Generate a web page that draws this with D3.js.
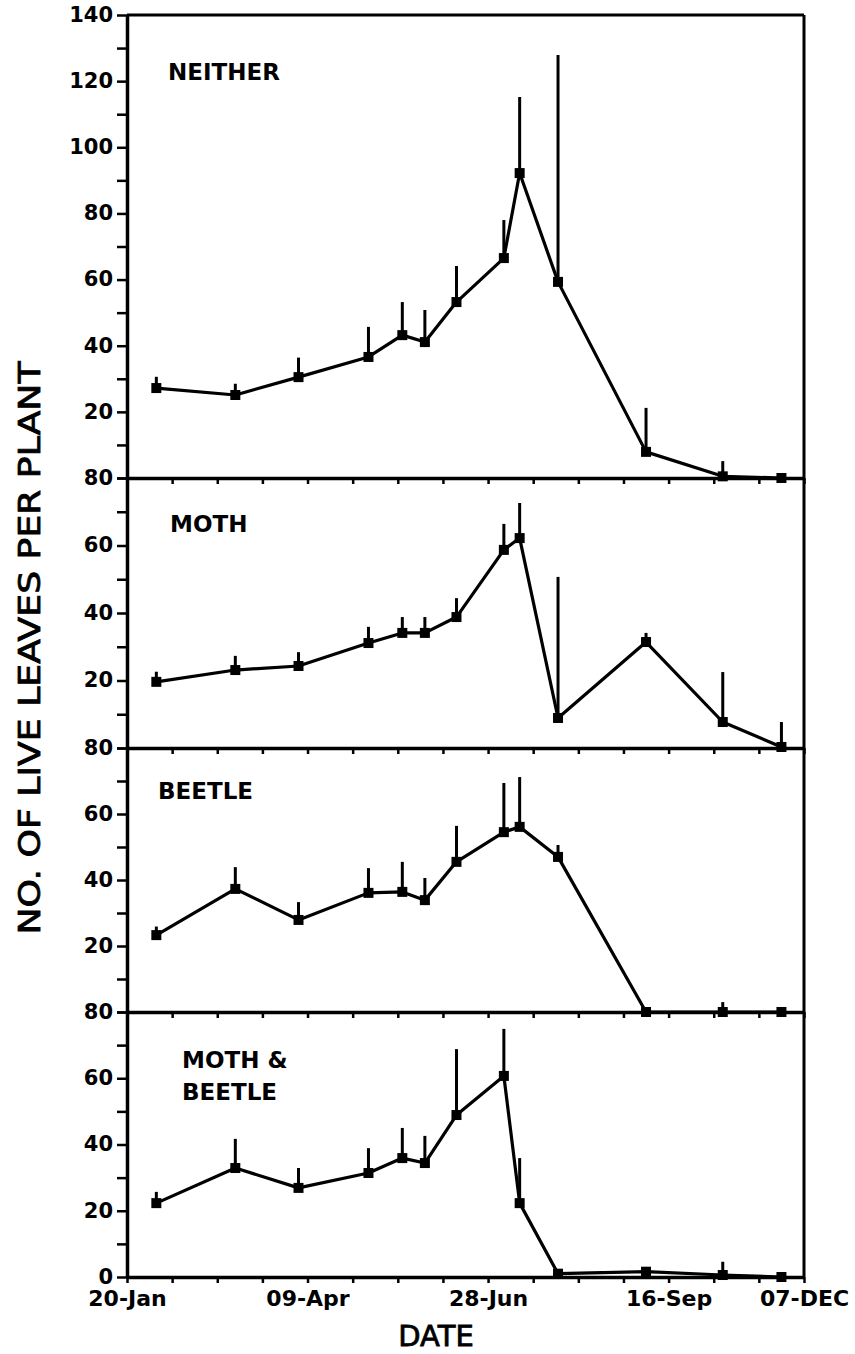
<!DOCTYPE html>
<html>
<head>
<meta charset="utf-8">
<script src="https://cdn.jsdelivr.net/npm/d3@7"></script>
<style>
  body { margin: 0; background: #fff; }
  svg { display: block; }
  .tick text { font-family: "DejaVu Sans", sans-serif; font-weight: bold; fill: #000; }
</style>
</head>
<body>
<div class="js-canvas"></div>
<script>
'use strict';

// sampling dates, as days after 20-Jan
const days = [13, 48, 76, 107, 122, 132, 146, 167, 174, 191, 230, 264, 290];

// mean number of live leaves per plant and the upper error bar length
const neither   = [27.2, 25.1, 30.5, 36.6, 43.2, 41.1, 53.2, 66.5, 92.2, 59.3, 7.9, 0.5, 0];
const neitherSe = [3.4, 3.4, 5.9, 9.1, 10, 9.7, 10.9, 11.5, 23, 68.6, 13.3, 4.6, 0];
const moth      = [19.6, 23.1, 24.3, 31.1, 34.1, 34.1, 38.8, 58.7, 62.2, 8.9, 31.4, 7.7, 0.3];
const mothSe    = [3, 4.2, 4.1, 4.8, 4.7, 4.7, 5.6, 7.7, 10.4, 41.8, 2.7, 14.8, 7.4];
const beetle    = [23.3, 37.3, 27.9, 36.1, 36.4, 33.9, 45.5, 54.5, 56.1, 47, 0, 0, 0];
const beetleSe  = [2.6, 6.6, 5.4, 7.5, 9.1, 6.7, 10.9, 14.9, 15.1, 3.6, 0, 3, 0];
const both      = [22.3, 32.9, 26.9, 31.4, 35.9, 34.4, 48.9, 60.7, 22.3, 1, 1.6, 0.6, 0];
const bothSe    = [3.4, 8.8, 6, 7.5, 9.1, 8.2, 19.9, 14.2, 13.6, 0, 0, 4, 0];

// x axis labels
const tickDays = [0, 80, 160, 240, 300];
const tickLabels = ['20-Jan', '09-Apr', '28-Jun', '16-Sep', '07-DEC'];

const panels = [
    { name: ['NEITHER'], values: neither, se: neitherSe, max: 140 },
    { name: ['MOTH'], values: moth, se: mothSe, max: 80 },
    { name: ['BEETLE'], values: beetle, se: beetleSe, max: 80 },
    { name: ['MOTH &', 'BEETLE'], values: both, se: bothSe, max: 80 }
];

const config = {
    width: 855,
    height: 1354,
    left: 127,
    right: 804,
    // panel edges, top to bottom
    edges: [15, 478, 748, 1012, 1277],
    labelPos: [[168, 80], [170, 532], [158, 799], [182, 1068]]
};

const svg = d3.select('.js-canvas')
    .append('svg')
    .attr('width', config.width)
    .attr('height', config.height);

const x = d3.scaleLinear()
    .domain([0, 300])
    .range([config.left, config.right]);

panels.forEach((p, i) => {
    const top = config.edges[i];
    const bottom = config.edges[i + 1];
    const last = i === panels.length - 1;

    const y = d3.scaleLinear()
        .domain([0, p.max])
        .range([bottom, top]);

    const g = svg.append('g');

    // y axis
    const yAxis = d3.axisLeft(y)
        .tickValues(d3.range(0, p.max + 1, 10))
        .tickSize(10)
        .tickSizeOuter(0)
        .tickPadding(4)
        .tickFormat(d => (d % 20 !== 0 || (d === 0 && !last)) ? '' : d);

    const yg = g.append('g')
        .attr('transform', `translate(${config.left},0)`)
        .call(yAxis);
    yg.selectAll('text').style('font-size', '21px').attr('dy', '0.3em');

    // x axis along the bottom of every panel
    const xAxis = d3.axisBottom(x)
        .tickValues(d3.range(0, 301, 20))
        .tickSize(6)
        .tickSizeOuter(0)
        .tickPadding(7)
        .tickFormat(d => {
            if (!last) return '';
            const k = tickDays.indexOf(d);
            return k >= 0 ? tickLabels[k] : '';
        });

    const xg = g.append('g')
        .attr('transform', `translate(0,${bottom})`)
        .call(xAxis);
    xg.selectAll('text').style('font-size', '22px');

    g.selectAll('.domain').attr('stroke', '#000').attr('stroke-width', 3.5);
    g.selectAll('.tick line').attr('stroke', '#000').attr('stroke-width', 2.5);

    // right edge and top frame
    g.append('line')
        .attr('x1', config.right).attr('x2', config.right)
        .attr('y1', top).attr('y2', bottom)
        .attr('stroke', '#000').attr('stroke-width', 3);
    if (i === 0) {
        g.append('line')
            .attr('x1', config.left).attr('x2', config.right)
            .attr('y1', top).attr('y2', top)
            .attr('stroke', '#000').attr('stroke-width', 3);
    }

    const data = days.map((d, k) => ({ day: d, value: p.values[k], se: p.se[k] }));

    // error bars, upper side only
    g.selectAll('.err')
        .data(data.filter(d => d.se > 0))
        .enter()
        .append('line')
        .attr('class', 'err')
        .attr('x1', d => x(d.day))
        .attr('x2', d => x(d.day))
        .attr('y1', d => y(d.value))
        .attr('y2', d => y(d.value + d.se))
        .attr('stroke', '#000')
        .attr('stroke-width', 3);

    const line = d3.line()
        .x(d => x(d.day))
        .y(d => y(d.value));

    g.append('path')
        .datum(data)
        .attr('d', line)
        .attr('fill', 'none')
        .attr('stroke', '#000')
        .attr('stroke-width', 3.2)
        .attr('stroke-linejoin', 'round');

    g.selectAll('.pt')
        .data(data)
        .enter()
        .append('rect')
        .attr('class', 'pt')
        .attr('x', d => x(d.day) - 5)
        .attr('y', d => y(d.value) - 5)
        .attr('width', 10)
        .attr('height', 10)
        .attr('fill', '#000');

    // panel name
    const name = g.append('text')
        .attr('x', config.labelPos[i][0])
        .attr('y', config.labelPos[i][1])
        .style('font-family', '"DejaVu Sans", sans-serif')
        .style('font-weight', 'bold')
        .style('font-size', '23px');
    p.name.forEach((t, k) => {
        name.append('tspan')
            .attr('x', config.labelPos[i][0])
            .attr('dy', k === 0 ? 0 : 32)
            .text(t);
    });
});

// axis titles
svg.append('text')
    .attr('transform', 'translate(40,648) rotate(-90)')
    .attr('text-anchor', 'middle')
    .attr('textLength', 573)
    .attr('lengthAdjust', 'spacingAndGlyphs')
    .style('font-family', '"DejaVu Sans", sans-serif')
    .style('font-size', '31px')
    .style('stroke', '#000')
    .style('stroke-width', 0.8)
    .text('NO. OF LIVE LEAVES PER PLANT');

svg.append('text')
    .attr('x', 436)
    .attr('y', 1346)
    .attr('text-anchor', 'middle')
    .style('font-family', '"DejaVu Sans", sans-serif')
    .style('font-size', '29px')
    .style('stroke', '#000')
    .style('stroke-width', 0.8)
    .text('DATE');
</script>
</body>
</html>
